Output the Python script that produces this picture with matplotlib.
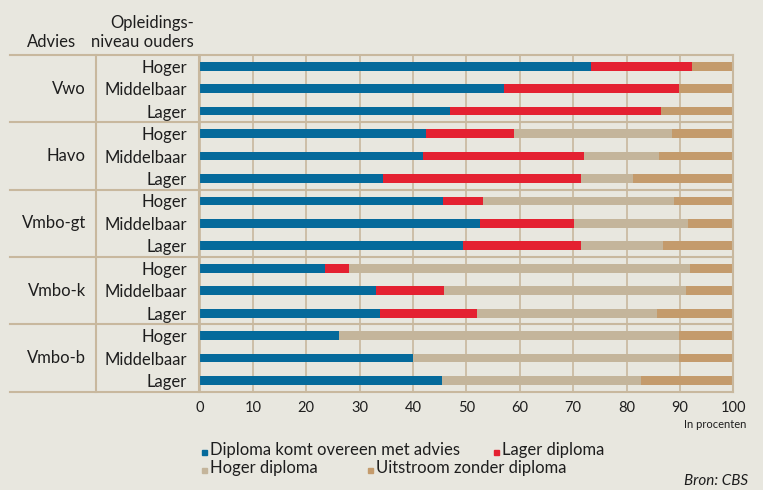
import numpy as np
import matplotlib
matplotlib.use("Agg")
import matplotlib.pyplot as plt
import matplotlib.transforms as mtransforms
from matplotlib.patches import Rectangle

# data (percent per segment)
advies = ['Vwo', 'Havo', 'Vmbo-gt', 'Vmbo-k', 'Vmbo-b']
niveau = ['Hoger', 'Middelbaar', 'Lager']
overeen = [73.4, 57.1, 47.0, 42.5, 41.9, 34.3, 45.6, 52.5, 49.3, 23.6, 33.0, 33.9, 26.1, 40.0, 45.5]
lager = [18.9, 32.7, 39.5, 16.5, 30.2, 37.2, 7.5, 17.6, 22.2, 4.4, 12.8, 18.1, 0, 0, 0]
hoger = [0, 0, 0, 29.6, 14.0, 9.7, 35.7, 21.4, 15.4, 63.9, 45.3, 33.7, 63.8, 49.8, 37.3]
zonder = [7.7, 10.2, 13.5, 11.4, 13.9, 18.8, 11.2, 8.5, 13.1, 8.1, 8.9, 14.3, 10.1, 10.2, 17.2]
series_names = ['Diploma komt overeen met advies', 'Lager diploma', 'Hoger diploma', 'Uitstroom zonder diploma']
xticks = [0, 10, 20, 30, 40, 50, 60, 70, 80, 90, 100]

colors = ['#056a9b', '#e42131', '#c4b59b', '#c49b6c']
bg = '#e8e7df'
linec = '#c8b89e'

plt.rcParams['font.family'] = ['Lato', 'DejaVu Sans']
textc = '#1e1e1e'
fs = 12

fig = plt.figure(figsize=(7.63, 4.90), dpi=100, facecolor=bg)
W, H = 763.0, 490.0
ax = fig.add_axes([199.5 / W, 1 - 391.7 / H, (733.3 - 199.5) / W, (391.7 - 55) / H])
ax.set_facecolor(bg)

n = len(overeen)
y = np.arange(n)
left = np.zeros(n)
for vals, c in zip([overeen, lager, hoger, zonder], colors):
    ax.barh(y, vals, left=left, height=0.39, color=c, zorder=3)
    left = left + np.array(vals)

ax.set_xlim(0, 100)
ax.set_ylim(n - 0.5, -0.5)
for xv in xticks:
    ax.axvline(xv, color=linec, lw=1.2, zorder=1)
for s in ax.spines.values():
    s.set_visible(False)

ax.set_xticks(xticks)
ax.set_xticklabels([str(v) for v in xticks], fontsize=10.5, color=textc)
ax.tick_params(axis='x', length=0, pad=7)
ax.set_yticks(y)
ax.set_yticklabels(niveau * len(advies), fontsize=fs, color=textc)
ax.tick_params(axis='y', length=0, pad=9)

# table lines
tr = mtransforms.blended_transform_factory(fig.transFigure, ax.transData)
for yy in [-0.5, 2.5, 5.5, 8.5, 11.5, 14.5]:
    ax.plot([10 / W, 733.3 / W], [yy, yy], transform=tr, color=linec, lw=1.5,
            clip_on=False, zorder=4)
for xx in [96 / W, 199 / W, 733.3 / W]:
    ax.plot([xx, xx], [-0.5, 14.5], transform=tr, color=linec, lw=1.5,
            clip_on=False, zorder=4)

for i, a in enumerate(advies):
    ax.text(86 / W, 3 * i + 1, a, transform=tr, ha='right', va='center',
            fontsize=fs, color=textc)

fig.text(52 / W, 1 - 47 / H, 'Advies', ha='center', va='baseline', fontsize=fs, color=textc)
fig.text(194 / W, 1 - 28 / H, 'Opleidings-', ha='right', va='baseline', fontsize=fs, color=textc)
fig.text(194 / W, 1 - 47 / H, 'niveau ouders', ha='right', va='baseline', fontsize=fs, color=textc)
fig.text(746 / W, 1 - 424 / H, 'In procenten', ha='right', va='center', fontsize=8, color=textc)

# legend
leg_pos = [(202, 449.5), (494, 449.5), (202, 467.5), (368, 467.5)]
for (lx, ly), c, name in zip(leg_pos, colors, series_names):
    fig.patches.append(Rectangle((lx / W, 1 - (ly + 5) / H), 5 / W, 5 / H,
                                 transform=fig.transFigure, color=c))
    fig.text((lx + 8) / W, 1 - ly / H, name, ha='left', va='center',
             fontsize=fs, color=textc)

fig.text(748 / W, 1 - 481 / H, 'Bron: CBS', ha='right', va='center', fontsize=11,
         style='italic', color=textc)

fig.savefig('out.png', dpi=100, facecolor=bg)
